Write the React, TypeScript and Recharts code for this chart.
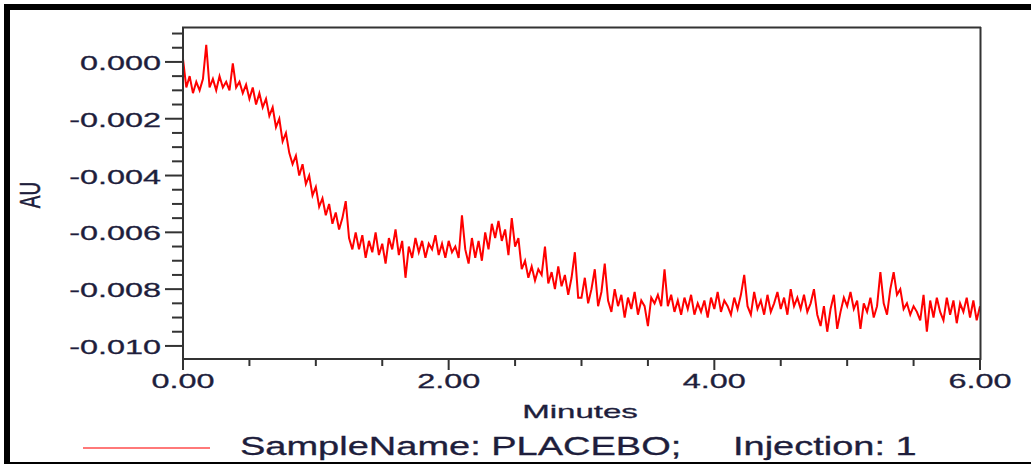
import React from 'react'
import { LineChart, Line, XAxis, YAxis } from 'recharts'

// detector trace in mAU, one reading every 0.025 min from 0.00 to 6.00
const signalMau = [
  0.1, -0.9, -0.5, -1.1, -0.7, -1.0, -0.6, 0.6, -0.9, -0.6, -1.0, -0.5, -0.9, -0.7, -1.0, -0.05, -0.9, -0.7, -1.1, -0.8,
  -1.3, -0.9, -1.5, -1.1, -1.6, -1.3, -1.9, -1.6, -2.3, -2.0, -2.8, -2.5, -3.2, -3.6, -3.3, -4.0, -3.6, -4.3, -4.0, -4.7,
  -4.4, -5.1, -4.8, -5.4, -5.0, -5.7, -5.3, -5.9, -5.5, -4.9, -6.2, -6.6, -6.0, -6.6, -6.1, -6.9, -6.3, -6.7, -6.0, -6.8,
  -6.4, -7.1, -6.2, -6.6, -5.9, -6.8, -6.3, -7.6, -6.5, -6.9, -6.2, -6.7, -6.3, -6.9, -6.4, -6.6, -6.1, -6.8, -6.4, -6.9,
  -6.3, -6.7, -6.5, -6.9, -5.4, -6.6, -7.1, -6.2, -6.9, -6.3, -7.0, -6.0, -6.6, -5.7, -6.2, -5.6, -6.3, -5.9, -6.8, -5.5,
  -6.5, -6.2, -7.3, -7.0, -7.6, -7.2, -7.7, -7.3, -7.5, -6.5, -7.8, -7.4, -8.0, -7.2, -7.9, -7.5, -8.2, -7.6, -6.7, -8.3,
  -8.3, -7.6, -8.5, -8.0, -7.3, -8.6, -8.1, -7.1, -8.4, -8.8, -8.0, -8.6, -8.2, -9.0, -8.3, -8.7, -8.1, -8.9, -8.4, -8.6,
  -9.3, -8.3, -8.5, -8.2, -8.6, -7.3, -8.6, -8.2, -8.8, -8.4, -8.9, -8.3, -8.7, -8.2, -8.9, -8.5, -8.8, -8.4, -9.0, -8.3,
  -8.7, -8.1, -8.8, -8.4, -8.6, -8.9, -8.3, -8.7, -8.2, -7.5, -8.6, -8.9, -8.1, -8.7, -8.4, -8.9, -8.2, -8.8, -8.5, -8.1,
  -8.7, -8.3, -8.9, -8.0, -8.6, -8.3, -8.7, -8.2, -8.8, -8.5, -8.0, -8.9, -9.3, -8.6, -9.5, -8.7, -8.2, -9.4, -8.8, -8.3,
  -8.6, -8.1, -8.7, -8.4, -9.4, -8.5, -8.8, -8.3, -9.0, -8.6, -7.4, -8.5, -8.9, -8.0, -7.4, -8.2, -8.0, -8.7, -8.5, -8.9,
  -8.6, -8.8, -9.1, -8.2, -9.5, -8.4, -9.0, -8.3, -8.8, -9.1, -8.3, -8.9, -8.4, -9.2, -8.5, -8.8, -8.3, -9.0, -8.4, -9.1, -8.6,
]
const sampleStep = 0.025

const xMajorTicks = [0, 2, 4, 6]
const xMinorTicks = [0.5, 1, 1.5, 2.5, 3, 3.5, 4.5, 5, 5.5]
const yMajorTicks = [0, -0.002, -0.004, -0.006, -0.008, -0.01]
const yMinorTicks = [
  0.001, 0.0005, -0.0005, -0.001, -0.0015, -0.0025, -0.003, -0.0035, -0.0045,
  -0.005, -0.0055, -0.0065, -0.007, -0.0075, -0.0085, -0.009, -0.0095,
]
const yDomain = [-0.01046, 0.00123]

const sampleName = 'PLACEBO'
const injection = 1

const data = signalMau.map((v, i) => ({ minutes: i * sampleStep, au: v / 1000 }))

const font = '"Liberation Sans", Arial, sans-serif'
const textColor = '#1e1e3c'
const axisColor = '#333'

const isMajor = (list: number[], v: number) => list.some((m) => Math.abs(m - v) < 1e-9)

const YTick = (props: any) => {
  const { x, y, payload } = props
  const major = isMajor(yMajorTicks, payload.value)
  const len = major ? 18 : 11
  return (
    <g>
      <line x1={x - len} y1={y} x2={x} y2={y} stroke={axisColor} strokeWidth={2} />
      {major && (
        <text
          transform={`translate(${x - 22},${y + 8}) scale(1.62,1)`}
          textAnchor="end"
          fontSize={20}
          fontFamily={font}
          fill={textColor}
          stroke={textColor}
          strokeWidth={0.3}
        >
          {payload.value.toFixed(3)}
        </text>
      )}
    </g>
  )
}

const XTick = (props: any) => {
  const { x, y, payload } = props
  const major = isMajor(xMajorTicks, payload.value)
  const len = major ? 11 : 7
  return (
    <g>
      <line x1={x} y1={y} x2={x} y2={y + len} stroke={axisColor} strokeWidth={2} />
      {major && (
        <text
          transform={`translate(${x},${y + 29}) scale(1.62,1)`}
          textAnchor="middle"
          fontSize={20}
          fontFamily={font}
          fill={textColor}
          stroke={textColor}
          strokeWidth={0.3}
        >
          {payload.value.toFixed(2)}
        </text>
      )}
    </g>
  )
}

const App: React.FC = () => {
  const xTicks = [...xMajorTicks, ...xMinorTicks].sort((a, b) => a - b)
  const yTicks = [...yMajorTicks, ...yMinorTicks].sort((a, b) => a - b)

  return (
    <div style={{ position: 'fixed', left: 0, top: 0, width: 1031, height: 465, background: '#fff' }}>
      <LineChart width={1031} height={465} data={data} margin={{ top: 27, right: 51, bottom: 46, left: 0 }}>
        <XAxis
          dataKey="minutes"
          type="number"
          domain={[0, 6]}
          ticks={xTicks}
          interval={0}
          tick={XTick}
          tickLine={false}
          tickSize={0}
          tickMargin={0}
          height={60}
          axisLine={{ stroke: axisColor, strokeWidth: 2 }}
        />
        <YAxis
          type="number"
          domain={yDomain}
          allowDataOverflow
          ticks={yTicks}
          interval={0}
          tick={YTick}
          tickLine={false}
          tickSize={0}
          tickMargin={0}
          width={183}
          axisLine={{ stroke: axisColor, strokeWidth: 2 }}
        />
        <Line
          type="linear"
          dataKey="au"
          stroke="#ff0000"
          strokeWidth={2}
          dot={false}
          activeDot={false}
          isAnimationActive={false}
        />
      </LineChart>

      <svg width={1031} height={465} style={{ position: 'absolute', left: 0, top: 0, pointerEvents: 'none' }}>
        {/* outer frame */}
        <rect x={4} y={4} width={1027} height={6} fill="#000" />
        <rect x={4} y={4} width={6} height={460} fill="#000" />
        <rect x={4} y={462} width={1027} height={2} fill="#000" />
        {/* plot box top and right */}
        <line x1={182} y1={27.5} x2={981} y2={27.5} stroke={axisColor} strokeWidth={2} />
        <line x1={980.5} y1={27} x2={980.5} y2={360} stroke={axisColor} strokeWidth={2} />

        <text
          transform="translate(40,195) scale(1.6,1) rotate(-90)"
          textAnchor="middle"
          fontSize={19}
          fontFamily={font}
          fill={textColor}
          stroke={textColor}
          strokeWidth={0.3}
        >
          AU
        </text>
        <text
          transform="translate(580,418) scale(1.74,1)"
          textAnchor="middle"
          fontSize={19}
          fontFamily={font}
          fill={textColor}
          stroke={textColor}
          strokeWidth={0.3}
        >
          Minutes
        </text>

        <line x1={83} y1={448} x2={210} y2={448} stroke="#ff4d4d" strokeWidth={1.5} />
        <text transform="translate(240,455) scale(1.52,1)" fontSize={25} fontFamily={font} fill={textColor} stroke={textColor} strokeWidth={0.3}>
          {`SampleName: ${sampleName};`}
        </text>
        <text transform="translate(733,455) scale(1.52,1)" fontSize={25} fontFamily={font} fill={textColor} stroke={textColor} strokeWidth={0.3}>
          {`Injection: ${injection}`}
        </text>
      </svg>
    </div>
  )
}

export default App
